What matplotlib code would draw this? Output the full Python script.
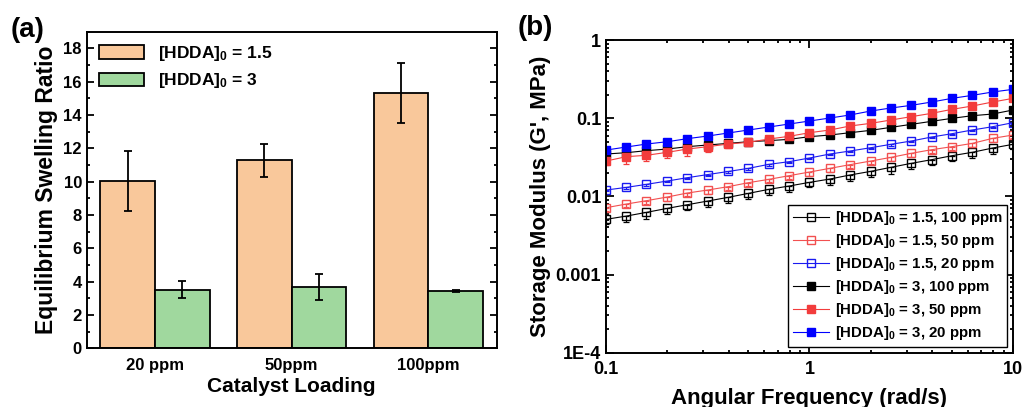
import numpy as np
import matplotlib
matplotlib.use("Agg")
import matplotlib.pyplot as plt
from matplotlib.ticker import MultipleLocator, LogLocator, FixedLocator, FixedFormatter, NullFormatter

plt.rcParams['font.family'] = ['Liberation Sans', 'DejaVu Sans']
plt.rcParams['font.weight'] = 'bold'
plt.rcParams['axes.labelweight'] = 'bold'
plt.rcParams['mathtext.fontset'] = 'custom'
plt.rcParams['mathtext.bf'] = 'Liberation Sans:bold'
plt.rcParams['mathtext.rm'] = 'Liberation Sans:bold'
plt.rcParams['mathtext.default'] = 'bf'

# ---- panel (a) data ----
loadings = ["20 ppm", "50ppm", "100ppm"]
swell_15 = [10.04, 11.28, 15.34]
swell_15_err = [1.8, 1.0, 1.8]
swell_3 = [3.52, 3.66, 3.44]
swell_3_err = [0.52, 0.77, 0.05]

# ---- panel (b) data ----
freq = [0.1, 0.126, 0.158, 0.2, 0.251, 0.316, 0.398, 0.501, 0.631, 0.794,
        1.0, 1.26, 1.58, 2.0, 2.51, 3.16, 3.98, 5.01, 6.31, 7.94, 10.0]
g_15_100 = [0.00508, 0.00560, 0.00624, 0.00702, 0.00782, 0.00871, 0.00971, 0.01092,
            0.01229, 0.01356, 0.01510, 0.01666, 0.01875, 0.02088, 0.02350, 0.02643,
            0.02944, 0.0331, 0.0366, 0.0415, 0.0463]
g_15_50 = [0.00716, 0.00798, 0.00880, 0.00981, 0.01103, 0.01205, 0.01329, 0.01496,
           0.01650, 0.01838, 0.02048, 0.02282, 0.02541, 0.0283, 0.0315, 0.0355,
           0.0395, 0.0432, 0.0476, 0.0552, 0.0609]
g_15_20 = [0.01205, 0.01303, 0.01424, 0.01571, 0.01733, 0.0190, 0.0208, 0.02282,
           0.02567, 0.02777, 0.03094, 0.0348, 0.0380, 0.0419, 0.0463, 0.0510,
           0.0574, 0.0633, 0.0706, 0.0778, 0.0876]
g_3_100 = [0.0348, 0.0362, 0.0384, 0.0403, 0.0432, 0.0454, 0.0476, 0.0500, 0.0516,
           0.0536, 0.0580, 0.0609, 0.0652, 0.0699, 0.0763, 0.0834, 0.0911, 0.0995,
           0.1076, 0.1130, 0.1272]
g_3_50 = [0.0283, 0.0322, 0.0335, 0.0366, 0.0403, 0.0432, 0.0467, 0.0491, 0.0541,
          0.0586, 0.0652, 0.0706, 0.0794, 0.0859, 0.0947, 0.1045, 0.1153, 0.1297,
          0.1431, 0.1609, 0.1793]
g_3_20 = [0.0391, 0.0428, 0.0467, 0.0500, 0.0547, 0.0591, 0.0646, 0.0706, 0.0771,
          0.0842, 0.0920, 0.1005, 0.1098, 0.1235, 0.1349, 0.1459, 0.1609, 0.1793,
          0.1959, 0.2162, 0.2338]
# lower error bars, as a fraction of the value
err_15_100 = [0.12, 0.15, 0.17, 0.16, 0.15, 0.17, 0.16, 0.15, 0.16, 0.15, 0.14,
              0.15, 0.16, 0.15, 0.17, 0.16, 0.15, 0.14, 0.15, 0.16, 0.13]
err_15_50 = [0.08, 0.09, 0.08, 0.1, 0.09, 0.1, 0.09, 0.1, 0.08, 0.09, 0.1,
             0.09, 0.1, 0.09, 0.1, 0.09, 0.1, 0.09, 0.1, 0.09, 0.08]
err_15_20 = [0.04] * 21
err_3_100 = [0.03] * 21
err_3_50 = [0.1, 0.2, 0.16, 0.15, 0.18, 0.15, 0.12, 0.1, 0.08, 0.07, 0.06,
            0.06, 0.05, 0.05, 0.05, 0.05, 0.04, 0.04, 0.04, 0.04, 0.04]
err_3_20 = [0.02] * 21

fig = plt.figure(figsize=(10.23, 4.07), dpi=100)

# ================= (a) =================
ax1 = fig.add_axes([0.0848, 0.1442, 0.4007, 0.778])
x = np.arange(len(loadings))
w = 0.4
ax1.bar(x - w / 2, swell_15, w, color='#F9C89B', edgecolor='black', linewidth=1.3,
        label='[HDDA]$_0$ = 1.5', zorder=2)
ax1.bar(x + w / 2, swell_3, w, color='#A0D89E', edgecolor='black', linewidth=1.3,
        label='[HDDA]$_0$ = 3', zorder=2)
ax1.errorbar(x - w / 2, swell_15, yerr=swell_15_err, fmt='none', ecolor='black',
             elinewidth=1.3, capsize=3, capthick=1.3, zorder=3)
ax1.errorbar(x + w / 2, swell_3, yerr=swell_3_err, fmt='none', ecolor='black',
             elinewidth=1.3, capsize=3, capthick=1.3, zorder=3)
ax1.set_xlim(-0.5, 2.5)
ax1.set_ylim(0, 19)
ax1.set_xticks(x)
ax1.set_xticklabels(loadings)
ax1.yaxis.set_major_locator(MultipleLocator(2))
ax1.yaxis.set_minor_locator(MultipleLocator(1))
ax1.tick_params(axis='x', length=0, labelsize=12, pad=7)
ax1.tick_params(axis='y', which='both', direction='in', left=True, right=True,
                labelsize=12, width=1.3)
ax1.tick_params(axis='y', which='major', length=5)
ax1.tick_params(axis='y', which='minor', length=2.5)
for s in ax1.spines.values():
    s.set_linewidth(1.4)
ax1.set_xlabel('Catalyst Loading', fontsize=15, labelpad=3)
ax1.set_ylabel('Equilibrium Swelling Ratio', fontsize=16.5, labelpad=4)
ax1.legend(loc='upper left', fontsize=12.5, frameon=False, handlelength=2.6,
           handleheight=0.85, labelspacing=0.5, borderaxespad=0.3)

# ================= (b) =================
ax2 = fig.add_axes([0.5924, 0.1334, 0.3978, 0.7683])
series = [
    (g_15_100, err_15_100, 'black', 'none', '[HDDA]$_0$ = 1.5, 100 ppm'),
    (g_15_50, err_15_50, '#F25050', 'none', '[HDDA]$_0$ = 1.5, 50 ppm'),
    (g_15_20, err_15_20, '#1A1AF0', 'none', '[HDDA]$_0$ = 1.5, 20 ppm'),
    (g_3_100, err_3_100, 'black', 'black', '[HDDA]$_0$ = 3, 100 ppm'),
    (g_3_50, err_3_50, '#F23C3C', '#F23C3C', '[HDDA]$_0$ = 3, 50 ppm'),
    (g_3_20, err_3_20, '#0000FF', '#0000FF', '[HDDA]$_0$ = 3, 20 ppm'),
]
for vals, err, col, face, lab in series:
    vals = np.array(vals)
    low = vals * np.array(err)
    ax2.errorbar(freq, vals, yerr=[low, np.zeros_like(low)], fmt='none', ecolor=col,
                 elinewidth=0.9, capsize=2.5, capthick=0.9)
    ax2.plot(freq, vals, 's-', color=col, mfc=face, mec=col, ms=6, mew=1.0, lw=0.8,
             label=lab)
ax2.set_xscale('log')
ax2.set_yscale('log')
ax2.set_xlim(0.1, 10)
ax2.set_ylim(1e-4, 1)
ax2.xaxis.set_major_locator(FixedLocator([0.1, 1, 10]))
ax2.xaxis.set_major_formatter(FixedFormatter(['0.1', '1', '10']))
ax2.xaxis.set_minor_locator(LogLocator(base=10, subs=np.arange(2, 10)))
ax2.xaxis.set_minor_formatter(NullFormatter())
ax2.yaxis.set_major_locator(FixedLocator([1e-4, 1e-3, 1e-2, 1e-1, 1]))
ax2.yaxis.set_major_formatter(FixedFormatter(['1E-4', '0.001', '0.01', '0.1', '1']))
ax2.yaxis.set_minor_locator(LogLocator(base=10, subs=np.arange(2, 10)))
ax2.yaxis.set_minor_formatter(NullFormatter())
ax2.tick_params(which='both', direction='in', top=True, right=True, width=1.3,
                labelsize=13)
ax2.tick_params(which='major', length=5.5)
ax2.tick_params(which='minor', length=2.5)
ax2.tick_params(axis='x', pad=6)
for s in ax2.spines.values():
    s.set_linewidth(1.4)
ax2.set_xlabel('Angular Frequency (rad/s)', fontsize=16, labelpad=7)
ax2.set_ylabel("Storage Modulus (G', MPa)", fontsize=16, labelpad=3)
leg = ax2.legend(loc='lower right', fontsize=10.8, fancybox=False, framealpha=1,
                 edgecolor='black', handlelength=2.4, labelspacing=0.33,
                 borderpad=0.3, handletextpad=0.4, borderaxespad=0.4)
leg.get_frame().set_linewidth(1.0)

fig.text(0.027, 1 - 30 / 407, '(a)', fontsize=20, fontweight='bold', va='center', ha='center')
fig.text(0.523, 1 - 28 / 407, '(b)', fontsize=20, fontweight='bold', va='center', ha='center')

fig.savefig('out.png', dpi=100)
